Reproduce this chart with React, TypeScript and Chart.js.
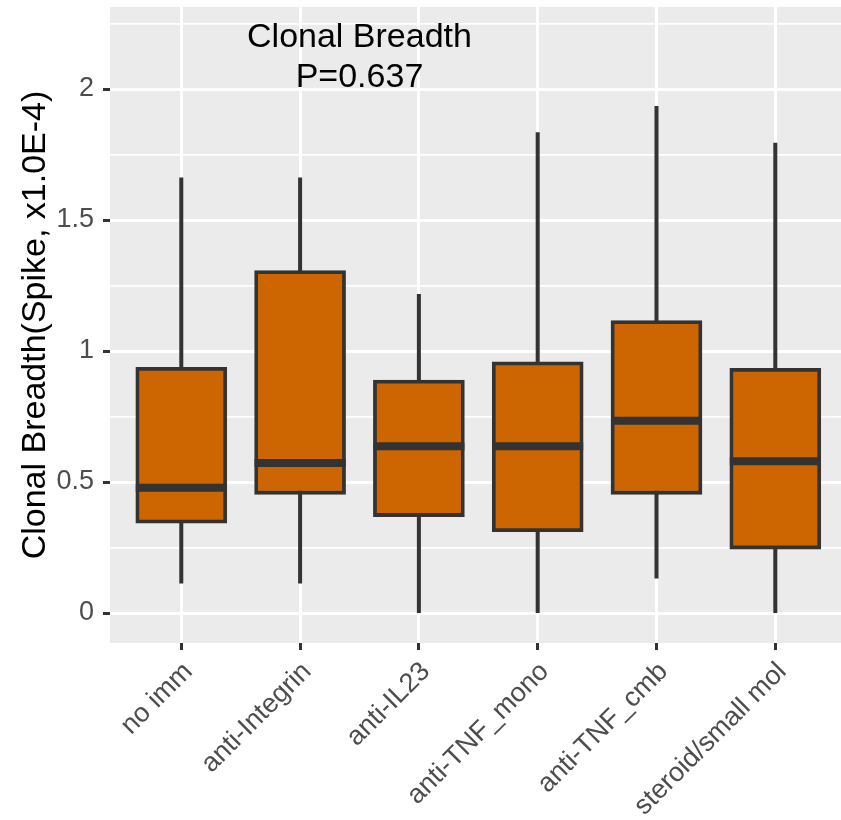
import React, { useEffect, useRef } from 'react';
import { Chart, registerables } from 'chart.js';

Chart.register(...registerables);

const FONT = '"Liberation Sans", Arial, Helvetica, sans-serif';

const categories = ['no imm', 'anti-Integrin', 'anti-IL23', 'anti-TNF_mono', 'anti-TNF_cmb', 'steroid/small mol'];
const whiskerLow = [0.113, 0.113, 0.0, 0.0, 0.132, 0.0];
const q1 = [0.343, 0.453, 0.368, 0.31, 0.453, 0.244];
const median = [0.478, 0.573, 0.636, 0.636, 0.734, 0.579];
const q3 = [0.938, 1.307, 0.889, 0.959, 1.116, 0.934];
const whiskerHigh = [1.662, 1.662, 1.218, 1.835, 1.935, 1.795];

const yMajorTicks = [0, 0.5, 1, 1.5, 2];
const yMinorTicks = [0.25, 0.75, 1.25, 1.75, 2.25];
const titleLines = ['Clonal Breadth', 'P=0.637'];
const titleX = 1.5;
const titleY = 2.12;
const yAxisTitle = 'Clonal Breadth(Spike, x1.0E-4)';

const FILL = '#CD6600';
const LINE = '#333333';

const boxPlugin = {
  id: 'boxExtras',
  beforeDraw(chart: any) {
    const { ctx, chartArea: a } = chart;
    ctx.save();
    ctx.fillStyle = '#EBEBEB';
    ctx.fillRect(a.left, a.top, a.right - a.left, a.bottom - a.top);
    ctx.restore();
  },
  beforeDatasetsDraw(chart: any) {
    const { ctx, scales } = chart;
    const xs = scales.x;
    const ys = scales.y;
    ctx.save();
    ctx.strokeStyle = LINE;
    ctx.lineWidth = 4;
    ctx.lineCap = 'butt';
    categories.forEach((_, i) => {
      const x = xs.getPixelForValue(i);
      ctx.beginPath();
      ctx.moveTo(x, ys.getPixelForValue(whiskerLow[i]));
      ctx.lineTo(x, ys.getPixelForValue(whiskerHigh[i]));
      ctx.stroke();
    });
    ctx.restore();
  },
  afterDatasetsDraw(chart: any) {
    const { ctx, scales } = chart;
    const xs = scales.x;
    const ys = scales.y;
    const meta = chart.getDatasetMeta(0);
    ctx.save();
    ctx.strokeStyle = LINE;
    ctx.lineWidth = 8;
    ctx.lineCap = 'butt';
    categories.forEach((_, i) => {
      const el = meta.data[i];
      const w = el.width;
      const y = ys.getPixelForValue(median[i]);
      ctx.beginPath();
      ctx.moveTo(el.x - w / 2, y);
      ctx.lineTo(el.x + w / 2, y);
      ctx.stroke();
    });
    ctx.fillStyle = '#000000';
    ctx.font = `34px ${FONT}`;
    ctx.textAlign = 'center';
    ctx.textBaseline = 'middle';
    const cx = xs.getPixelForValue(titleX);
    const cy = ys.getPixelForValue(titleY);
    const lh = 40.5;
    titleLines.forEach((t, k) => {
      ctx.fillText(t, cx, cy + (k - (titleLines.length - 1) / 2) * lh);
    });
    ctx.restore();
  },
};

export default function App() {
  const ref = useRef<HTMLCanvasElement | null>(null);

  useEffect(() => {
    if (!ref.current) return;
    Chart.defaults.font.family = FONT;
    const chart = new Chart(ref.current, {
      type: 'bar',
      data: {
        datasets: [
          {
            data: categories.map((_, i) => ({ x: i, y: [q1[i], q3[i]] })) as any,
            backgroundColor: FILL,
            borderColor: LINE,
            borderWidth: 3.8,
            borderSkipped: false,
            barThickness: 91,
          } as any,
        ],
      },
      options: {
        responsive: false,
        animation: false,
        events: [],
        layout: { padding: { top: 7, left: 0, right: 0, bottom: 0 } },
        plugins: { legend: { display: false }, tooltip: { enabled: false } },
        scales: {
          x: {
            type: 'linear',
            min: -0.6,
            max: 5.553,
            offset: false,
            afterBuildTicks: (s: any) => {
              s.ticks = categories.map((_, i) => ({ value: i }));
            },
            afterFit: (s: any) => {
              s.height = 177;
              s.paddingLeft = 0;
              s.paddingRight = 0;
            },
            ticks: {
              autoSkip: false,
              minRotation: 45,
              maxRotation: 45,
              color: '#4D4D4D',
              padding: 6,
              labelOffset: 7,
              font: { size: 27, family: FONT },
              callback: (v: any) => categories[v as number] ?? '',
            },
            grid: {
              offset: false,
              color: '#FFFFFF',
              lineWidth: 3,
              tickColor: LINE,
              tickWidth: 3,
              tickLength: 7,
            } as any,
            border: { display: false },
          },
          y: {
            type: 'linear',
            min: -0.1145,
            max: 2.313,
            afterBuildTicks: (s: any) => {
              s.ticks = [...yMajorTicks, ...yMinorTicks].sort((a, b) => a - b).map((v) => ({ value: v }));
            },
            afterFit: (s: any) => {
              s.width = 110;
              s.paddingTop = 0;
              s.paddingBottom = 0;
            },
            ticks: {
              color: '#4D4D4D',
              padding: 9,
              font: { size: 27, family: FONT },
              callback: (v: any) => (yMajorTicks.includes(v) ? String(v) : ''),
            },
            grid: {
              color: '#FFFFFF',
              lineWidth: (c: any) => (yMajorTicks.includes(c.tick?.value) ? 3 : 1.7),
              tickColor: (c: any) => (yMajorTicks.includes(c.tick?.value) ? LINE : 'rgba(0,0,0,0)'),
              tickWidth: 3,
              tickLength: 7,
            } as any,
            border: { display: false },
            title: {
              display: true,
              text: yAxisTitle,
              color: '#000000',
              font: { size: 34, family: FONT },
              padding: { top: 15, bottom: 0 },
            },
          },
        },
      } as any,
      plugins: [boxPlugin],
    });
    return () => chart.destroy();
  }, []);

  return (
    <div style={{ position: 'absolute', left: 0, top: 0, width: 841, height: 820, background: '#fff' }}>
      <canvas ref={ref} width={841} height={820} style={{ display: 'block' }} />
    </div>
  );
}
